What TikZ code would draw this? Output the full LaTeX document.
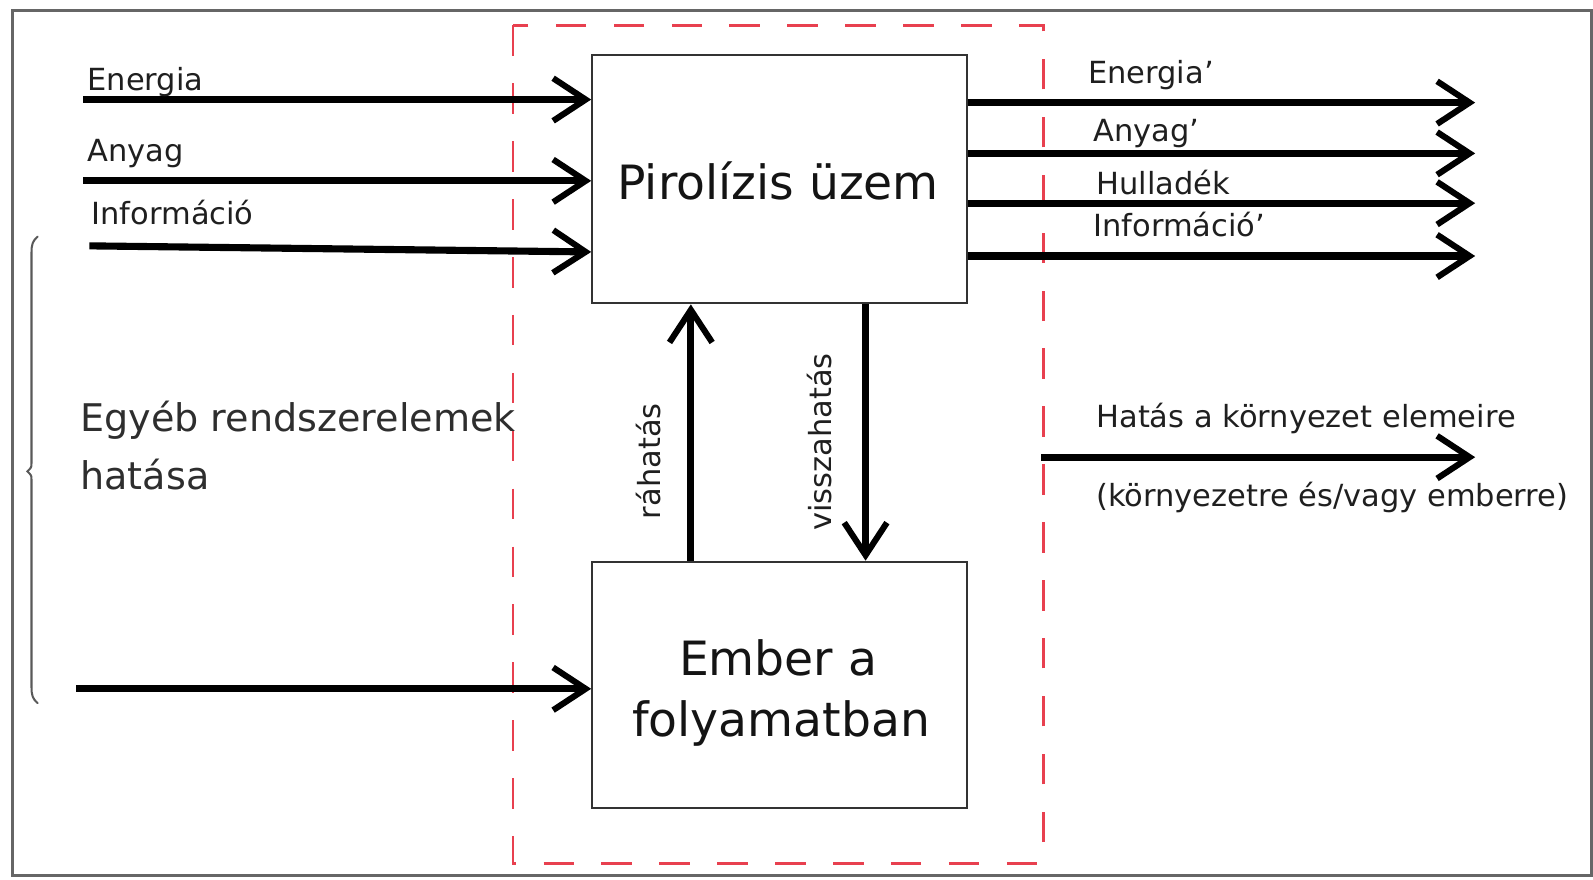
\documentclass[tikz,border=0pt]{standalone}
\usepackage{fontspec}
\setmainfont{DejaVu Sans}
\usetikzlibrary{arrows.meta}
\definecolor{dashred}{HTML}{E8404F}
\definecolor{boxgray}{HTML}{333333}
\tikzset{
  flow/.style={line width=7pt, -{Straight Barb[length=32pt,width=42pt,line width=6pt]}},
  blockbox/.style={draw=boxgray, line width=2.2pt, minimum width=369pt, minimum height=244pt, inner sep=0pt},
  small/.style={font=\fontsize{30}{36}\selectfont, inner sep=0pt, text=black!88},
  big/.style={font=\fontsize{46.5}{60}\selectfont, inner sep=0pt, text=black!92},
  mid/.style={font=\fontsize{37.5}{56}\selectfont, inner sep=0pt, text=black!82},
}
\begin{document}
\begin{tikzpicture}[x=1pt,y=-1pt]
\useasboundingbox (0,0) rectangle (1568,866);
% outer frame
\draw[black!60, line width=3pt] (12,10) rectangle (1567,862);
% red dashed system boundary
\draw[dashred, line width=2.5pt, dash pattern=on 30pt off 27pt] (505,25) rectangle (1027,850);
% blocks
\node[blockbox] (pir) at (767.5,176.5) {};
\node[blockbox, minimum height=242pt] (emb) at (767.5,674) {};
\node[big, anchor=base] (pirt) at (766,196) {Pirolízis üzem};
\node[big, anchor=base] (embt1) at (766,665) {Ember a};
\node[big, anchor=base] (embt2) at (769,725) {folyamatban};
% inputs
\coordinate (in1) at (82,98);
\coordinate (in2) at (82,178);
\coordinate (in3) at (88,242);
\coordinate (in4) at (75,678);
\draw[flow] (in1) -- (in1 -| pir.west);
\draw[flow] (in2) -- (in2 -| pir.west);
\draw[flow] (in3) -- ([yshift=-6pt]in3 -| pir.west);
\draw[flow] (in4) -- (in4 -| emb.west);
\node[small, anchor=base west] (lin1) at (86,89) {Energia};
\node[small, anchor=base west] (lin2) at (86,159) {Anyag};
\node[small, anchor=base west] (lin3) at (90,221) {Információ};
% outputs
\coordinate (out1) at (1452,101);
\coordinate (out2) at (1452,151);
\coordinate (out3) at (1452,200);
\coordinate (out4) at (1452,252);
\draw[flow] (out1 -| pir.east) -- (out1);
\draw[flow] (out2 -| pir.east) -- (out2);
\draw[flow] (out3 -| pir.east) -- (out3);
\draw[flow] (out4 -| pir.east) -- (out4);
\node[small, anchor=base west] (lout1) at (1071,82) {Energia'};
\node[small, anchor=base west] (lout2) at (1076,139) {Anyag'};
\node[small, anchor=base west] (lout3) at (1079,191) {Hulladék};
\node[small, anchor=base west] (lout4) at (1076,233) {Információ'};
% effect on environment
\coordinate (envs) at (1025,450);
\coordinate (enve) at (1452,450);
\draw[flow] (envs) -- (enve);
\node[small, anchor=base west] (lenv1) at (1079,421) {Hatás a környezet elemeire};
\node[small, anchor=base west] (lenv2) at (1079,499) {(környezetre és/vagy emberre)};
% feedback arrows
\coordinate (rah) at (680,0);
\coordinate (vis) at (852,0);
\draw[flow] (rah |- emb.north) -- (rah |- pir.south);
\draw[flow] (vis |- pir.south) -- (vis |- emb.north);
\node[small, rotate=90, anchor=base] (lrah) at (650,454) {ráhatás};
\node[small, rotate=90, anchor=base] (lvis) at (818,435) {visszahatás};
% other system elements
\node[mid, anchor=base west] (egy1) at (79,425) {Egyéb rendszerelemek};
\node[mid, anchor=base west] (egy2) at (79,482) {hatása};
% brace
\draw[black!65, line width=2pt, line cap=round]
  (37,233) .. controls (32,237) and (31,241) .. (31,249)
  -- (31,456) .. controls (31,460) .. (27,464)
  .. controls (31,468) .. (31,472)
  -- (31,676) .. controls (31,684) and (32,688) .. (37,692);
\end{tikzpicture}
\end{document}
